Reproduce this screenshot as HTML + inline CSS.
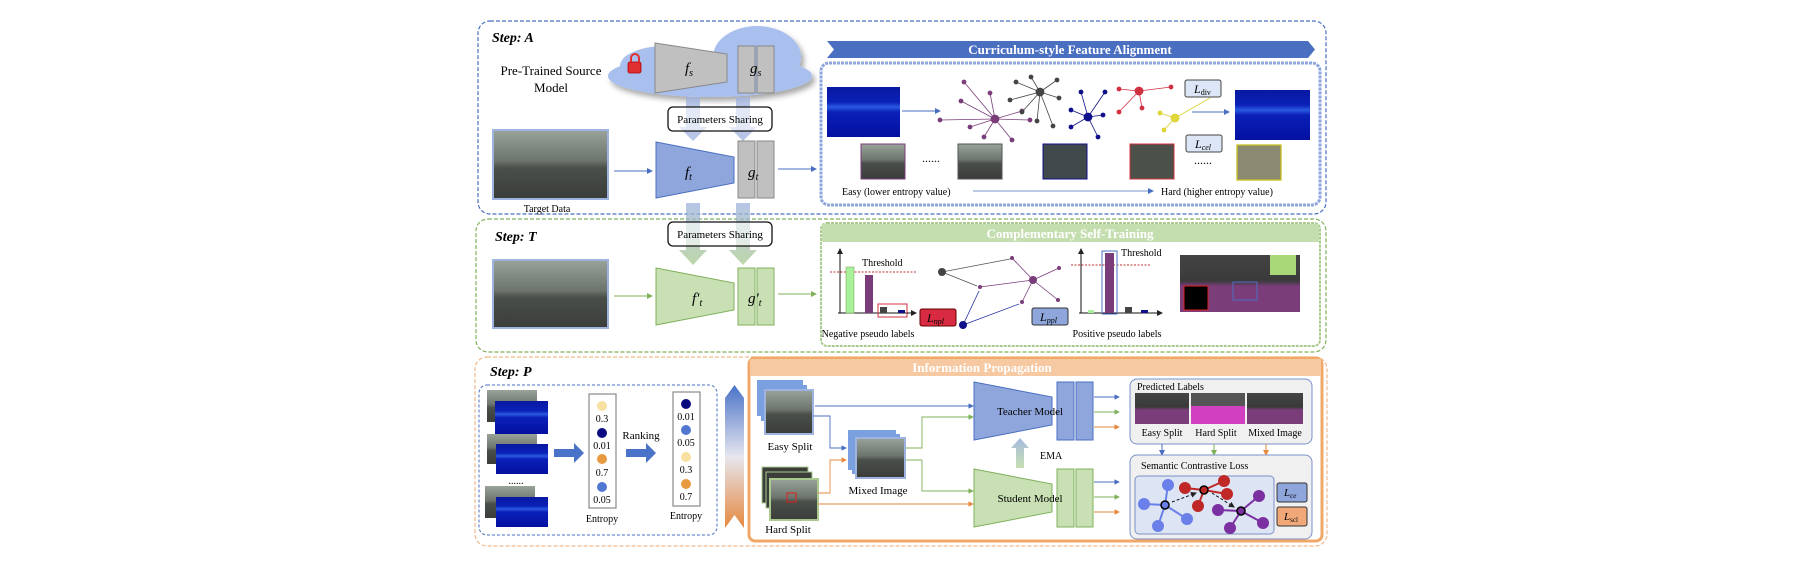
<!DOCTYPE html>
<html><head><meta charset="utf-8"><style>
html,body{margin:0;padding:0;background:#fff}
svg{display:block}
text{font-family:"Liberation Serif",serif}
</style></head><body>
<svg width="1802" height="574" viewBox="0 0 1802 574" xmlns="http://www.w3.org/2000/svg">
<defs>
<linearGradient id="st" x1="0" y1="0" x2="0" y2="1">
<stop offset="0" stop-color="#9aa39a"/><stop offset="0.45" stop-color="#6c746c"/><stop offset="0.55" stop-color="#4a4f4a"/><stop offset="1" stop-color="#3a3d3a"/></linearGradient>
<linearGradient id="hm" x1="0" y1="0" x2="0" y2="1">
<stop offset="0" stop-color="#0818a0"/><stop offset="0.3" stop-color="#0a20b8"/><stop offset="0.4" stop-color="#2a5ae0"/><stop offset="0.5" stop-color="#0a20b8"/><stop offset="1" stop-color="#0410a0"/></linearGradient>
<linearGradient id="grad" x1="0" y1="0" x2="0" y2="1">
<stop offset="0" stop-color="#4a72c8"/><stop offset="0.5" stop-color="#e6e6ee"/><stop offset="1" stop-color="#e5883e"/></linearGradient>
<linearGradient id="va" x1="0" y1="0" x2="0" y2="1"><stop offset="0" stop-color="#9fb3e0"/><stop offset="1" stop-color="#a9c98f"/></linearGradient>
<linearGradient id="ema" x1="0" y1="1" x2="0" y2="0"><stop offset="0" stop-color="#c7dfb2"/><stop offset="1" stop-color="#a7bbdf"/></linearGradient>
<linearGradient id="seg" x1="0" y1="0" x2="0" y2="1"><stop offset="0" stop-color="#444"/><stop offset="0.45" stop-color="#3a3a3a"/><stop offset="0.55" stop-color="#7a3d7a"/><stop offset="1" stop-color="#7a3d7a"/></linearGradient>
<marker id="ab" markerWidth="6" markerHeight="6" refX="5" refY="3" orient="auto"><path d="M0,0L6,3L0,6z" fill="#4a6fc1"/></marker>
<marker id="ag" markerWidth="6" markerHeight="6" refX="5" refY="3" orient="auto"><path d="M0,0L6,3L0,6z" fill="#7fb05a"/></marker>
<marker id="ao" markerWidth="6" markerHeight="6" refX="5" refY="3" orient="auto"><path d="M0,0L6,3L0,6z" fill="#e5883e"/></marker>
<marker id="ak" markerWidth="6" markerHeight="6" refX="5" refY="3" orient="auto"><path d="M0,0L6,3L0,6z" fill="#222"/></marker>
<filter id="sh"><feDropShadow dx="3" dy="4" stdDeviation="3" flood-color="#000" flood-opacity="0.35"/></filter>
</defs>

<rect x="478" y="21" width="848" height="193" rx="12" fill="none" stroke="#4a6fc1" stroke-dasharray="4,2" stroke-width="1.2"/>
<rect x="476" y="219" width="850" height="133" rx="12" fill="none" stroke="#7fb05a" stroke-dasharray="4,2" stroke-width="1.2"/>
<rect x="475" y="357" width="852" height="189" rx="12" fill="none" stroke="#f0b88a" stroke-dasharray="4,2" stroke-width="1.2"/>
<text x="492" y="42" font-size="14" font-style="italic" font-weight="bold">Step: A</text>
<text x="495" y="241" font-size="14" font-style="italic" font-weight="bold">Step: T</text>
<text x="490" y="376" font-size="14" font-style="italic" font-weight="bold">Step: P</text>

<g filter="url(#sh)" fill="#a9c0ef">
<ellipse cx="710" cy="76" rx="102" ry="21"/>
<ellipse cx="665" cy="66" rx="45" ry="20"/>
<ellipse cx="757" cy="57" rx="44" ry="31"/>
</g>
<text x="551" y="75" font-size="13" text-anchor="middle">Pre-Trained Source</text>
<text x="551" y="92" font-size="13" text-anchor="middle">Model</text>
<rect x="628" y="62" width="13" height="11" rx="2" fill="#e03030" stroke="#a00" stroke-width="0.8"/>
<path d="M631,62v-4a4,4 0 0 1 8,0v4" fill="none" stroke="#e03030" stroke-width="2"/>
<polygon points="655,43 727,54 727,82 655,93" fill="#c0c0c0" stroke="#888"/>
<text x="685" y="73" font-size="15" font-style="italic">f<tspan font-size="10" dy="3">s</tspan></text>
<rect x="738" y="46" width="17" height="47" fill="#c0c0c0" stroke="#888"/>
<rect x="757" y="46" width="17" height="47" fill="#c0c0c0" stroke="#888"/>
<text x="750" y="73" font-size="15" font-style="italic">g<tspan font-size="10" dy="3">s</tspan></text>

<g opacity="0.75">
<path d="M686,97h14v30h7l-14,14l-14,-14h7z" fill="#9fb3e0"/>
<path d="M736,97h14v30h7l-14,14l-14,-14h7z" fill="#9fb3e0"/>
<path d="M686,203h14v47h7l-14,15l-14,-15h7z" fill="url(#va)"/>
<path d="M736,203h14v47h7l-14,15l-14,-15h7z" fill="url(#va)"/>
</g>
<rect x="668" y="107" width="104" height="24" rx="5" fill="#fff" fill-opacity="0.6" stroke="#111" stroke-width="1.3"/>
<text x="720" y="123" font-size="11" text-anchor="middle">Parameters Sharing</text>
<rect x="668" y="222" width="104" height="24" rx="5" fill="#fff" fill-opacity="0.6" stroke="#111" stroke-width="1.3"/>
<text x="720" y="238" font-size="11" text-anchor="middle">Parameters Sharing</text>

<rect x="493" y="130" width="115" height="69" fill="url(#st)" stroke="#9fb3e0" stroke-width="2"/>
<text x="547" y="212" font-size="10" text-anchor="middle">Target Data</text>
<rect x="493" y="260" width="115" height="68" fill="url(#st)" stroke="#9fb3e0" stroke-width="2"/>
<line x1="614" y1="171" x2="652" y2="171" stroke="#4a6fc1" marker-end="url(#ab)"/>
<line x1="614" y1="296" x2="652" y2="296" stroke="#7fb05a" marker-end="url(#ag)"/>

<polygon points="656,142 734,157 734,183 656,198" fill="#8ea6dc" stroke="#4a6fc1"/>
<text x="685" y="177" font-size="15" font-style="italic">f<tspan font-size="10" dy="3">t</tspan></text>
<rect x="738" y="141" width="17" height="57" fill="#c0c0c0" stroke="#888"/>
<rect x="757" y="141" width="17" height="57" fill="#c0c0c0" stroke="#888"/>
<text x="748" y="177" font-size="15" font-style="italic">g<tspan font-size="10" dy="3">t</tspan></text>
<line x1="778" y1="169" x2="816" y2="169" stroke="#4a6fc1" marker-end="url(#ab)"/>

<polygon points="656,268 734,283 734,310 656,325" fill="#c9e0b4" stroke="#7fb05a"/>
<text x="692" y="303" font-size="15" font-style="italic">f′<tspan font-size="10" dy="3">t</tspan></text>
<rect x="738" y="268" width="17" height="57" fill="#c9e0b4" stroke="#7fb05a"/>
<rect x="757" y="268" width="17" height="57" fill="#c9e0b4" stroke="#7fb05a"/>
<text x="748" y="303" font-size="15" font-style="italic">g′<tspan font-size="10" dy="3">t</tspan></text>
<line x1="778" y1="294" x2="816" y2="294" stroke="#7fb05a" marker-end="url(#ag)"/>

<polygon points="827,41 1308,41 1315,49.5 1308,58 827,58 834,49.5" fill="#4a6fc1"/>
<text x="1070" y="54" font-size="13" font-weight="bold" fill="#fff" text-anchor="middle">Curriculum-style Feature Alignment</text>
<rect x="821" y="63" width="499" height="142" rx="8" fill="#fff" stroke="#8ea6dc" stroke-width="3" stroke-dasharray="3,1"/>
<rect x="827" y="87" width="73" height="50" fill="url(#hm)"/>
<line x1="902" y1="111" x2="940" y2="111" stroke="#4a6fc1" marker-end="url(#ab)"/>
<g stroke="#7a3d7a" stroke-width="0.8" fill="#7a3d7a">
<line x1="995" y1="119" x2="964" y2="82"/><line x1="995" y1="119" x2="961" y2="101"/><line x1="995" y1="119" x2="940" y2="120"/><line x1="995" y1="119" x2="970" y2="127"/><line x1="995" y1="119" x2="984" y2="137"/><line x1="995" y1="119" x2="1012" y2="140"/><line x1="995" y1="119" x2="1030" y2="120"/><line x1="995" y1="119" x2="1022" y2="111"/><line x1="995" y1="119" x2="990" y2="93"/>
<circle cx="995" cy="119" r="4"/><circle cx="964" cy="82" r="2"/><circle cx="961" cy="101" r="2"/><circle cx="940" cy="120" r="2"/><circle cx="970" cy="127" r="2"/><circle cx="984" cy="137" r="2"/><circle cx="1012" cy="140" r="2"/><circle cx="1030" cy="120" r="2"/><circle cx="1022" cy="111" r="2"/><circle cx="990" cy="93" r="2"/>
</g>
<g stroke="#444" stroke-width="0.8" fill="#444">
<line x1="1040" y1="92" x2="1016" y2="82"/><line x1="1040" y1="92" x2="1031" y2="77"/><line x1="1040" y1="92" x2="1057" y2="80"/><line x1="1040" y1="92" x2="1059" y2="98"/><line x1="1040" y1="92" x2="1010" y2="100"/><line x1="1040" y1="92" x2="1022" y2="112"/><line x1="1040" y1="92" x2="1037" y2="121"/><line x1="1040" y1="92" x2="1053" y2="126"/>
<circle cx="1040" cy="92" r="4"/><circle cx="1016" cy="82" r="2"/><circle cx="1031" cy="77" r="2"/><circle cx="1057" cy="80" r="2"/><circle cx="1059" cy="98" r="2"/><circle cx="1010" cy="100" r="2"/><circle cx="1022" cy="112" r="2"/><circle cx="1037" cy="121" r="2"/><circle cx="1053" cy="126" r="2"/>
</g>
<g stroke="#10108a" stroke-width="0.8" fill="#10108a">
<line x1="1088" y1="117" x2="1081" y2="92"/><line x1="1088" y1="117" x2="1105" y2="92"/><line x1="1088" y1="117" x2="1071" y2="110"/><line x1="1088" y1="117" x2="1103" y2="115"/><line x1="1088" y1="117" x2="1071" y2="127"/><line x1="1088" y1="117" x2="1098" y2="137"/>
<circle cx="1088" cy="117" r="4"/><circle cx="1081" cy="92" r="2"/><circle cx="1105" cy="92" r="2"/><circle cx="1071" cy="110" r="2"/><circle cx="1103" cy="115" r="2"/><circle cx="1071" cy="127" r="2"/><circle cx="1098" cy="137" r="2"/>
</g>
<g stroke="#d03040" stroke-width="0.8" fill="#d03040">
<line x1="1139" y1="91" x2="1119" y2="89"/><line x1="1139" y1="91" x2="1171" y2="87"/><line x1="1139" y1="91" x2="1119" y2="112"/><line x1="1139" y1="91" x2="1142" y2="108"/>
<circle cx="1139" cy="91" r="4"/><circle cx="1119" cy="89" r="2"/><circle cx="1171" cy="87" r="2"/><circle cx="1119" cy="112" r="2"/><circle cx="1142" cy="108" r="2"/>
</g>
<g stroke="#d8d030" stroke-width="0.8" fill="#e0d838">
<line x1="1175" y1="118" x2="1160" y2="113"/><line x1="1175" y1="118" x2="1164" y2="130"/><line x1="1175" y1="118" x2="1210" y2="98"/>
<circle cx="1175" cy="118" r="4"/><circle cx="1160" cy="113" r="2"/><circle cx="1164" cy="130" r="2"/>
</g>
<rect x="1185" y="80" width="36" height="17" rx="2" fill="#dde6f6" stroke="#444"/>
<text x="1194" y="93" font-size="12" font-style="italic">L<tspan font-size="8" dy="2" font-style="normal">div</tspan></text>
<line x1="1192" y1="112" x2="1229" y2="112" stroke="#4a6fc1" marker-end="url(#ab)"/>
<rect x="1235" y="90" width="75" height="50" fill="url(#hm)"/>
<rect x="1186" y="135" width="36" height="17" rx="2" fill="#dde6f6" stroke="#444"/>
<text x="1195" y="148" font-size="12" font-style="italic">L<tspan font-size="8" dy="2">cel</tspan></text>
<rect x="861" y="144" width="44" height="35" fill="url(#st)" stroke="#7a3d7a"/>
<text x="931" y="162" font-size="12" text-anchor="middle">......</text>
<rect x="958" y="144" width="44" height="35" fill="url(#st)" stroke="#555"/>
<rect x="1043" y="144" width="44" height="35" fill="#40484a" stroke="#10108a"/>
<rect x="1130" y="144" width="44" height="35" fill="#4b5048" stroke="#d03040"/>
<text x="1203" y="164" font-size="12" text-anchor="middle">......</text>
<rect x="1237" y="145" width="44" height="35" fill="#8a8a70" stroke="#c8c020" stroke-width="1.3"/>
<text x="842" y="195" font-size="10">Easy (lower entropy value)</text>
<line x1="973" y1="191" x2="1153" y2="191" stroke="#7a90c8" marker-end="url(#ab)"/>
<text x="1161" y="195" font-size="10">Hard (higher entropy value)</text>

<rect x="821" y="223" width="499" height="123" rx="6" fill="#fff" stroke="#a9c98f" stroke-width="2" stroke-dasharray="3,1"/>
<rect x="822" y="224" width="497" height="18" fill="#c5deb0"/>
<text x="1070" y="238" font-size="13" font-weight="bold" fill="#fff" text-anchor="middle">Complementary Self-Training</text>
<line x1="840" y1="313" x2="840" y2="249" stroke="#111" marker-end="url(#ak)"/>
<line x1="838" y1="313" x2="914" y2="313" stroke="#111"/>
<line x1="830" y1="272" x2="916" y2="272" stroke="#c03030" stroke-dasharray="2,1.5"/>
<text x="862" y="266" font-size="10">Threshold</text>
<rect x="846" y="267" width="8" height="46" fill="#a9f09a" stroke="#7fb05a" stroke-width="0.6"/>
<rect x="865" y="275" width="8" height="38" fill="#7a3d7a"/>
<rect x="880" y="307" width="7" height="6" fill="#444"/>
<rect x="898" y="310" width="7" height="3" fill="#10108a"/>
<rect x="878" y="304" width="29" height="13" fill="none" stroke="#d03040"/>
<line x1="907" y1="313" x2="916" y2="313" stroke="#111" marker-end="url(#ak)"/>
<rect x="920" y="309" width="36" height="17" rx="2" fill="#d82a40" stroke="#600"/>
<text x="927" y="322" font-size="12" font-style="italic">L<tspan font-size="8" dy="2">npl</tspan></text>
<text x="868" y="337" font-size="10" text-anchor="middle">Negative pseudo labels</text>
<g stroke-width="0.8">
<line x1="942" y1="272" x2="1010" y2="259" stroke="#555"/><line x1="942" y1="272" x2="977" y2="286" stroke="#555"/>
<line x1="980" y1="287" x2="1033" y2="280" stroke="#7a3d7a"/><line x1="1033" y1="280" x2="1012" y2="258" stroke="#7a3d7a"/><line x1="1033" y1="280" x2="1059" y2="268" stroke="#7a3d7a"/><line x1="1033" y1="280" x2="1058" y2="300" stroke="#7a3d7a"/><line x1="1033" y1="280" x2="1022" y2="302" stroke="#7a3d7a"/>
<line x1="963" y1="325" x2="1019" y2="304" stroke="#2030a0"/><line x1="963" y1="325" x2="979" y2="291" stroke="#2030a0"/>
</g>
<circle cx="942" cy="272" r="4" fill="#444"/><circle cx="1033" cy="280" r="4" fill="#7a3d7a"/>
<g fill="#7a3d7a"><circle cx="1012" cy="258" r="2"/><circle cx="1059" cy="268" r="2"/><circle cx="1058" cy="300" r="2"/><circle cx="1022" cy="302" r="2"/><circle cx="980" cy="287" r="2"/></g>
<circle cx="963" cy="325" r="4" fill="#10108a"/>
<rect x="1032" y="308" width="36" height="17" rx="2" fill="#8ea6dc" stroke="#333"/>
<text x="1040" y="321" font-size="12" font-style="italic">L<tspan font-size="8" dy="2">ppl</tspan></text>
<line x1="1081" y1="313" x2="1081" y2="249" stroke="#111" marker-end="url(#ak)"/>
<line x1="1079" y1="313" x2="1162" y2="313" stroke="#111" marker-end="url(#ak)"/>
<line x1="1071" y1="265" x2="1150" y2="265" stroke="#c03030" stroke-dasharray="2,1.5"/>
<rect x="1088" y="310" width="6" height="3" fill="#a9f09a"/>
<rect x="1105" y="253" width="9" height="60" fill="#7a3d7a"/>
<rect x="1102" y="251" width="15" height="63" fill="none" stroke="#4a6fc1"/>
<rect x="1125" y="307" width="7" height="6" fill="#444"/>
<rect x="1141" y="310" width="7" height="3" fill="#10108a"/>
<text x="1121" y="256" font-size="10">Threshold</text>
<text x="1117" y="337" font-size="10" text-anchor="middle">Positive pseudo labels</text>
<rect x="1180" y="255" width="120" height="57" fill="url(#seg)"/>
<rect x="1270" y="255" width="26" height="20" fill="#a8d878"/>
<rect x="1184" y="286" width="24" height="24" fill="#000" stroke="#e02020"/>
<rect x="1233" y="282" width="24" height="18" fill="none" stroke="#4a6fc1"/>

<rect x="479" y="385" width="238" height="150" rx="8" fill="none" stroke="#4a6fc1" stroke-dasharray="3,2"/>
<rect x="487" y="390" width="50" height="32" fill="url(#st)"/><rect x="495" y="401" width="53" height="33" fill="url(#hm)"/>
<rect x="487" y="434" width="50" height="30" fill="url(#st)"/><rect x="496" y="444" width="52" height="30" fill="url(#hm)"/>
<text x="516" y="484" font-size="10" text-anchor="middle">......</text>
<rect x="485" y="486" width="50" height="32" fill="url(#st)"/><rect x="496" y="497" width="52" height="30" fill="url(#hm)"/>
<path d="M554,449h20v-6l10,10l-10,10v-6h-20z" fill="#4a72c8"/>
<path d="M626,449h20v-6l10,10l-10,10v-6h-20z" fill="#4a72c8"/>
<text x="641" y="439" font-size="11" text-anchor="middle">Ranking</text>
<rect x="589" y="394" width="27" height="114" fill="#fff" stroke="#888" stroke-width="1.2"/>
<circle cx="602" cy="406" r="5" fill="#f8e0a0"/><text x="602" y="422" font-size="10" text-anchor="middle">0.3</text>
<circle cx="602" cy="433" r="5" fill="#0a0a80"/><text x="602" y="449" font-size="10" text-anchor="middle">0.01</text>
<circle cx="602" cy="459" r="5" fill="#e89a40"/><text x="602" y="476" font-size="10" text-anchor="middle">0.7</text>
<circle cx="602" cy="487" r="5" fill="#5078d0"/><text x="602" y="503" font-size="10" text-anchor="middle">0.05</text>
<text x="602" y="522" font-size="10" text-anchor="middle">Entropy</text>
<rect x="673" y="392" width="27" height="114" fill="#fff" stroke="#888" stroke-width="1.2"/>
<circle cx="686" cy="404" r="5" fill="#0a0a80"/><text x="686" y="420" font-size="10" text-anchor="middle">0.01</text>
<circle cx="686" cy="430" r="5" fill="#5078d0"/><text x="686" y="446" font-size="10" text-anchor="middle">0.05</text>
<circle cx="686" cy="457" r="5" fill="#f8e0a0"/><text x="686" y="473" font-size="10" text-anchor="middle">0.3</text>
<circle cx="686" cy="484" r="5" fill="#e89a40"/><text x="686" y="500" font-size="10" text-anchor="middle">0.7</text>
<text x="686" y="519" font-size="10" text-anchor="middle">Entropy</text>
<polygon points="725,398 734.5,385 744,398 744,528 734.5,515 725,528" fill="url(#grad)"/>

<rect x="749" y="358" width="573" height="183" rx="6" fill="#fff" stroke="#f0a868" stroke-width="3"/>
<rect x="750" y="359" width="571" height="17" fill="#f7c9a3"/>
<text x="982" y="372" font-size="13" font-weight="bold" fill="#fff" text-anchor="middle">Information Propagation</text>
<rect x="757" y="380" width="46" height="36" fill="#7aa0e0"/><rect x="761" y="385" width="46" height="36" fill="#7aa0e0"/><rect x="765" y="390" width="48" height="44" fill="url(#st)" stroke="#9fb3e0" stroke-width="2"/>
<text x="790" y="450" font-size="11" text-anchor="middle">Easy Split</text>
<rect x="762" y="467" width="46" height="36" fill="#3a3d3a" stroke="#a9c98f"/><rect x="766" y="472" width="46" height="36" fill="#3a3d3a" stroke="#a9c98f"/><rect x="770" y="479" width="48" height="41" fill="url(#st)" stroke="#a9c98f" stroke-width="2"/>
<rect x="787" y="493" width="9" height="9" fill="none" stroke="#e02020"/>
<text x="788" y="533" font-size="11" text-anchor="middle">Hard Split</text>
<rect x="848" y="430" width="48" height="40" fill="#7aa0e0"/><rect x="852" y="434" width="48" height="40" fill="#7aa0e0"/><rect x="856" y="438" width="49" height="40" fill="url(#st)" stroke="#9fb3e0" stroke-width="2"/>
<text x="878" y="494" font-size="11" text-anchor="middle">Mixed Image</text>
<g fill="none" stroke-width="0.9">
<path d="M815,406H973" stroke="#4a6fc1" marker-end="url(#ab)"/>
<path d="M813,416H830V448H846" stroke="#4a6fc1" marker-end="url(#ab)"/>
<path d="M818,493H830V460H846" stroke="#e5883e" marker-end="url(#ao)"/>
<path d="M818,504H973" stroke="#e5883e" marker-end="url(#ao)"/>
<path d="M906,448H922V417H973" stroke="#7fb05a" marker-end="url(#ag)"/>
<path d="M906,460H922V491H973" stroke="#7fb05a" marker-end="url(#ag)"/>
</g>
<polygon points="974,382 1052,397 1052,425 974,440" fill="#8ea6dc" stroke="#4a6fc1"/>
<rect x="1057" y="382" width="17" height="58" fill="#8ea6dc" stroke="#4a6fc1"/><rect x="1076" y="382" width="17" height="58" fill="#8ea6dc" stroke="#4a6fc1"/>
<text x="1030" y="415" font-size="11" text-anchor="middle">Teacher Model</text>
<polygon points="974,469 1052,484 1052,512 974,527" fill="#c9e0b4" stroke="#7fb05a"/>
<rect x="1057" y="469" width="17" height="58" fill="#c9e0b4" stroke="#7fb05a"/><rect x="1076" y="469" width="17" height="58" fill="#c9e0b4" stroke="#7fb05a"/>
<text x="1030" y="502" font-size="11" text-anchor="middle">Student Model</text>
<path d="M1016,468v-20h-5l9,-10l9,10h-5v20z" fill="url(#ema)"/>
<text x="1040" y="459" font-size="10">EMA</text>
<g stroke-width="0.9">
<line x1="1094" y1="397" x2="1119" y2="397" stroke="#4a6fc1" marker-end="url(#ab)"/>
<line x1="1094" y1="412" x2="1119" y2="412" stroke="#7fb05a" marker-end="url(#ag)"/>
<line x1="1094" y1="427" x2="1119" y2="427" stroke="#e5883e" marker-end="url(#ao)"/>
<line x1="1094" y1="482" x2="1119" y2="482" stroke="#4a6fc1" marker-end="url(#ab)"/>
<line x1="1094" y1="497" x2="1119" y2="497" stroke="#7fb05a" marker-end="url(#ag)"/>
<line x1="1094" y1="512" x2="1119" y2="512" stroke="#e5883e" marker-end="url(#ao)"/>
</g>
<rect x="1130" y="379" width="182" height="65" rx="7" fill="#f0f0f0" stroke="#7a90c8"/>
<text x="1137" y="390" font-size="10">Predicted Labels</text>
<rect x="1135" y="393" width="54" height="31" fill="url(#seg)"/>
<rect x="1191" y="393" width="54" height="31" fill="#d040c0"/>
<rect x="1191" y="393" width="54" height="13" fill="#555"/>
<rect x="1247" y="393" width="56" height="31" fill="url(#seg)"/>
<text x="1162" y="436" font-size="10" text-anchor="middle">Easy Split</text>
<text x="1216" y="436" font-size="10" text-anchor="middle">Hard Split</text>
<text x="1275" y="436" font-size="10" text-anchor="middle">Mixed Image</text>
<line x1="1162" y1="444" x2="1162" y2="455" stroke="#4a6fc1" marker-end="url(#ab)"/>
<line x1="1214" y1="444" x2="1214" y2="455" stroke="#7fb05a" marker-end="url(#ag)"/>
<line x1="1266" y1="444" x2="1266" y2="455" stroke="#e5883e" marker-end="url(#ao)"/>
<rect x="1130" y="455" width="182" height="84" rx="7" fill="#f0f0f0" stroke="#7a90c8"/>
<text x="1141" y="469" font-size="10">Semantic Contrastive Loss</text>
<rect x="1135" y="476" width="139" height="58" rx="4" fill="#dde4f4" stroke="#7a90c8"/>
<g stroke-width="2">
<g stroke="#6a80e8" fill="#6a80e8"><line x1="1165" y1="505" x2="1168" y2="485"/><line x1="1165" y1="505" x2="1144" y2="504"/><line x1="1165" y1="505" x2="1187" y2="519"/><line x1="1165" y1="505" x2="1158" y2="526"/>
<circle cx="1168" cy="485" r="5"/><circle cx="1144" cy="504" r="5"/><circle cx="1187" cy="519" r="5"/><circle cx="1158" cy="526" r="5"/></g>
<g stroke="#c02828" fill="#c02828"><line x1="1204" y1="490" x2="1185" y2="488"/><line x1="1204" y1="490" x2="1224" y2="481"/><line x1="1204" y1="490" x2="1227" y2="494"/><line x1="1204" y1="490" x2="1198" y2="506"/>
<circle cx="1185" cy="488" r="5"/><circle cx="1224" cy="481" r="5"/><circle cx="1227" cy="494" r="5"/><circle cx="1198" cy="506" r="5"/></g>
<g stroke="#7a30a0" fill="#7a30a0"><line x1="1241" y1="511" x2="1259" y2="496"/><line x1="1241" y1="511" x2="1218" y2="510"/><line x1="1241" y1="511" x2="1263" y2="523"/><line x1="1241" y1="511" x2="1230" y2="528"/>
<circle cx="1259" cy="496" r="5"/><circle cx="1218" cy="510" r="5"/><circle cx="1263" cy="523" r="5"/><circle cx="1230" cy="528" r="5"/></g>
</g>
<line x1="1172" y1="502" x2="1196" y2="493" stroke="#111" stroke-dasharray="3,2" marker-end="url(#ak)"/>
<line x1="1212" y1="493" x2="1234" y2="507" stroke="#111" stroke-dasharray="3,2" marker-end="url(#ak)"/>
<circle cx="1165" cy="505" r="4" fill="#6a80e8" stroke="#000" stroke-width="1.5"/>
<circle cx="1204" cy="490" r="4" fill="#c02828" stroke="#000" stroke-width="1.5"/>
<circle cx="1241" cy="511" r="4" fill="#7a30a0" stroke="#000" stroke-width="1.5"/>
<rect x="1277" y="483" width="30" height="19" rx="2" fill="#8ea6dc" stroke="#333"/>
<text x="1284" y="496" font-size="11" font-style="italic">L<tspan font-size="7" dy="2">ce</tspan></text>
<rect x="1277" y="507" width="30" height="19" rx="2" fill="#f0a878" stroke="#333"/>
<text x="1284" y="520" font-size="11" font-style="italic">L<tspan font-size="7" dy="2" font-style="normal">scl</tspan></text>
</svg>
</body></html>
